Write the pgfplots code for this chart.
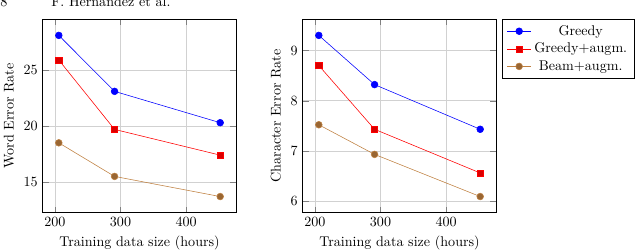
\documentclass[border=0pt]{standalone}
\usepackage{pgfplots}
\pgfplotsset{compat=1.18}
\begin{document}
\begin{tikzpicture}
\useasboundingbox (0pt,0pt) rectangle (454.4pt,178.2pt);
\node[anchor=base west,inner sep=0pt] at (0pt,173.6pt) {8};
\node[anchor=base west,inner sep=0pt] at (36.2pt,173.6pt) {F. Hernandez et al.};
\pgfplotsset{
  myax/.style={
    scale only axis, width=137.5pt, height=137.3pt,
    grid=major,
    major grid style={black!18},
    xlabel={Training data size (hours)},
    xtick={200,300,400},
    every axis plot/.append style={thin},
  },
  gr/.style={blue, mark=*, mark size=2.4pt, mark options={fill=blue}},
  gra/.style={red, mark=square*, mark size=2.2pt, mark options={fill=red!85!black}},
  ba/.style={brown, mark=*, mark size=2.4pt, mark options={fill=brown!80!black}},
}
\begin{axis}[myax, at={(30.3pt,27.2pt)}, anchor=south west,
  ylabel={Word Error Rate}, ytick={15,20,25}]
\addplot[gr] coordinates {(206,28.1) (291,23.1) (452,20.3)};
\addplot[gra] coordinates {(206,25.9) (291,19.7) (452,17.4)};
\addplot[ba] coordinates {(206,18.5) (291,15.5) (452,13.7)};
\end{axis}
\begin{axis}[myax, at={(214.9pt,27.2pt)}, anchor=south west,
  ylabel={Character Error Rate}, ytick={6,7,8,9},
  legend style={at={(1.031,1)}, anchor=north west, cells={align=center}},
  legend cell align=center]
\addplot[gr] coordinates {(206,9.3) (291,8.32) (452,7.43)};
\addplot[gra] coordinates {(206,8.7) (291,7.43) (452,6.56)};
\addplot[ba] coordinates {(206,7.52) (291,6.93) (452,6.09)};
\legend{Greedy, Greedy+augm., Beam+augm.}
\end{axis}
\end{tikzpicture}
\end{document}
